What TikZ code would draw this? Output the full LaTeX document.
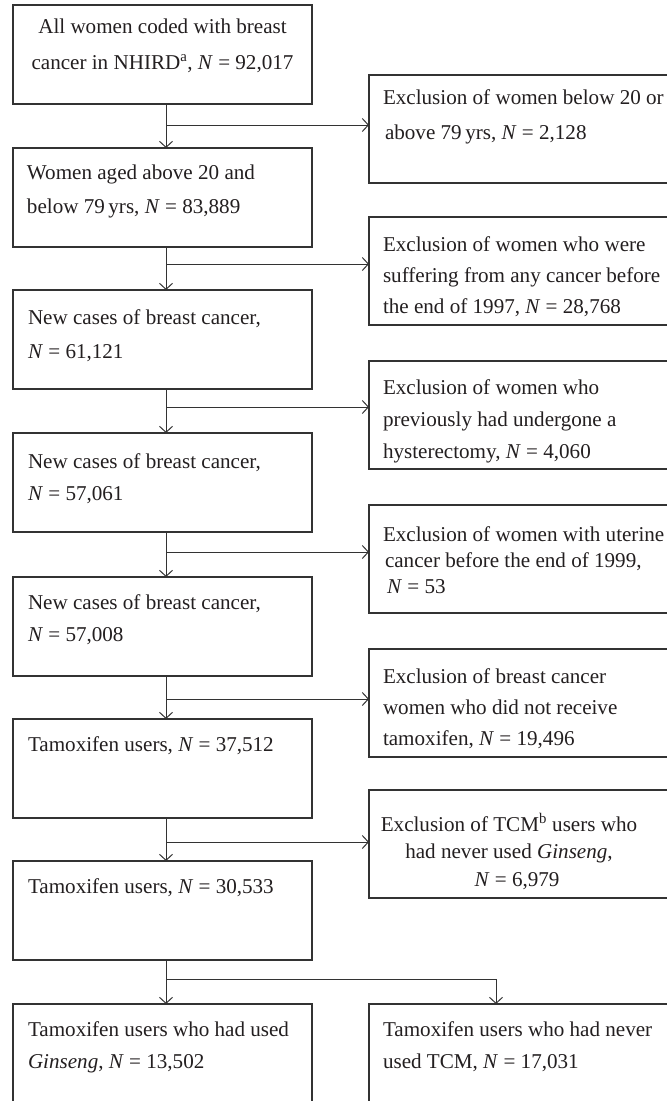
\documentclass[tikz,border=0pt]{standalone}
\usepackage{fontspec}
\setmainfont{Liberation Serif}
\usetikzlibrary{arrows.meta}
\definecolor{ln}{HTML}{333333}
\definecolor{tx}{HTML}{231F20}
\tikzset{
  lbox/.style={draw=ln, line width=1.1pt, anchor=north west, inner sep=0pt, outer sep=0pt,
    minimum width=299pt, minimum height=99pt},
  rbox/.style={draw=ln, line width=1.1pt, anchor=north west, inner sep=0pt, outer sep=0pt,
    minimum width=320pt, minimum height=108pt},
  bbox/.style={draw=ln, line width=1.1pt, anchor=north west, inner sep=0pt, outer sep=0pt,
    minimum height=130pt},
  txt/.style={anchor=north west, inner sep=0pt, outer sep=0pt, align=left, text=tx,
    font=\fontsize{21.1pt}{#1}\selectfont},
  txt/.default=33pt,
  ctxt/.style={anchor=north, inner sep=0pt, outer sep=0pt, align=center, text=tx,
    font=\fontsize{21.1pt}{#1}\selectfont},
  ctxt/.default=33pt,
  conn/.style={draw=ln, line width=1pt},
  arr/.style={conn, -{Straight Barb[length=6pt,width=13pt]}}
}
\newcommand{\fs}{\rule{0pt}{18pt}}
\begin{document}
\begin{tikzpicture}[x=1pt,y=-1pt]
\useasboundingbox (0,0) rectangle (667,1101);
\fill[white] (0,0) rectangle (667,1101);
\clip (0,0) rectangle (667,1101);

% left column boxes
\node[lbox] (L1) at (13,5) {};
\node[lbox] (L2) at (13,148) {};
\node[lbox] (L3) at (13,290) {};
\node[lbox] (L4) at (13,433) {};
\node[lbox] (L5) at (13,577) {};
\node[lbox] (L6) at (13,719) {};
\node[lbox] (L7) at (13,861) {};
\node[bbox, minimum width=299pt] (L8) at (13,1004) {};

% right column boxes
\node[rbox] (R1) at (369,75) {};
\node[rbox] (R2) at (369,217) {};
\node[rbox] (R3) at (369,361) {};
\node[rbox] (R4) at (369,505) {};
\node[rbox] (R5) at (369,649) {};
\node[rbox] (R6) at (369,790) {};
\node[bbox, minimum width=320pt] (R7) at (369,1004) {};

% texts
\node[ctxt=36pt] (T1) at (162.5,15) {\fs All women coded with breast\\cancer in NHIRD\textsuperscript{a}, \textit{N} = 92,017};
\node[txt=34pt] (T2) at (27,161) {\fs Women aged above 20 and\\below 79\,yrs, \textit{N} = 83,889};
\node[txt=34pt] (T3) at (28,306) {\fs New cases of breast cancer,\\\textit{N} = 61,121};
\node[txt=32pt] (T4) at (28,450) {\fs New cases of breast cancer,\\\textit{N} = 57,061};
\node[txt=32pt] (T5) at (28,591) {\fs New cases of breast cancer,\\\textit{N} = 57,008};
\node[txt] (T6) at (28,733) {\fs Tamoxifen users, \textit{N} = 37,512};
\node[txt] (T7) at (28,875) {\fs Tamoxifen users, \textit{N} = 30,533};
\node[txt=32pt] (T8) at (28,1018) {\fs Tamoxifen users who had used\\\textit{Ginseng}, \textit{N} = 13,502};

\node[txt=35pt] (U1) at (383,86) {\fs Exclusion of women below 20 or\\\hspace*{2pt}above 79\,yrs, \textit{N} = 2,128};
\node[txt=31pt] (U2) at (383,233) {\fs Exclusion of women who were\\suffering from any cancer before\\the end of 1997, \textit{N} = 28,768};
\node[txt=32pt] (U3) at (383,376) {\fs Exclusion of women who\\previously had undergone a\\hysterectomy, \textit{N} = 4,060};
\node[txt=26pt] (U4) at (383,523) {\fs Exclusion of women with uterine\\\hspace*{2pt}cancer before the end of 1999,\\\hspace*{4pt}\textit{N} = 53};
\node[txt=31pt] (U5) at (383,665) {\fs Exclusion of breast cancer\\women who did not receive\\tamoxifen, \textit{N} = 19,496};
\node[ctxt=27.5pt] (U6) at (509,813) {\fs Exclusion of TCM\textsuperscript{b} users who\\had never used \textit{Ginseng},\\\hspace*{16pt}\textit{N} = 6,979};
\node[txt=32pt] (U7) at (383,1018) {\fs Tamoxifen users who had never\\used TCM, \textit{N} = 17,031};

% connector coordinates
\coordinate (cx) at (166,0);
\coordinate (b1) at (166,125);
\coordinate (b2) at (166,264);
\coordinate (b3) at (166,407);
\coordinate (b4) at (166,552);
\coordinate (b5) at (166,699);
\coordinate (b6) at (166,842);
\coordinate (s) at (166,979);
\coordinate (sr) at (496,979);

% vertical connectors
\draw[arr] (L1.south -| cx) -- (L2.north -| cx);
\draw[arr] (L2.south -| cx) -- (L3.north -| cx);
\draw[arr] (L3.south -| cx) -- (L4.north -| cx);
\draw[arr] (L4.south -| cx) -- (L5.north -| cx);
\draw[arr] (L5.south -| cx) -- (L6.north -| cx);
\draw[arr] (L6.south -| cx) -- (L7.north -| cx);
\draw[conn] (L7.south -| cx) -- (s);
\draw[arr] (s) -- (L8.north -| cx);
\draw[arr] (s) -- (sr) -- (R7.north -| sr);

% exclusion branches
\draw[arr] (b1) -- (b1 -| R1.west);
\draw[arr] (b2) -- (b2 -| R2.west);
\draw[arr] (b3) -- (b3 -| R3.west);
\draw[arr] (b4) -- (b4 -| R4.west);
\draw[arr] (b5) -- (b5 -| R5.west);
\draw[arr] (b6) -- (b6 -| R6.west);
\end{tikzpicture}
\end{document}
